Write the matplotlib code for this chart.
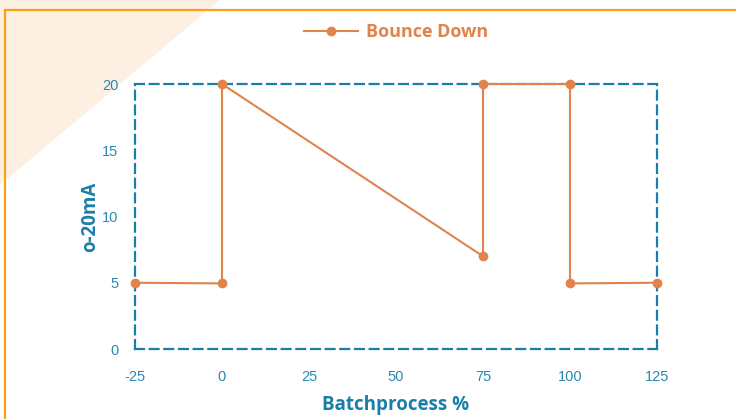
import matplotlib
matplotlib.use("Agg")
import matplotlib.pyplot as plt
from matplotlib.patches import Polygon, Rectangle
from matplotlib.lines import Line2D

plt.rcParams["axes.unicode_minus"] = False

# Bounce-down profile: batch progress (%) vs. 0-20 mA signal
batch_pct = [-25, 0, 0, 75, 75, 100, 100, 125]
signal_ma = [5, 4.95, 20, 7, 20, 20, 4.95, 5]
x_ticks = [-25, 0, 25, 50, 75, 100, 125]
y_ticks = [0, 5, 10, 15, 20]
series_name = "Bounce Down"

ORANGE = "#e0844c"
BLUE = "#1b7ea8"
TICK_BLUE = "#2a88b5"

fig = plt.figure(figsize=(7.36, 4.19), dpi=100)

# decorative background: pale triangle and orange frame
fig.patches.append(Polygon([(0, 1), (220 / 736, 1), (0, 1 - 185 / 419)],
                           closed=True, transform=fig.transFigure,
                           facecolor="#fdf0e2", edgecolor="none", zorder=0))
fig.patches.append(Rectangle((5 / 736, -0.2), 1.2, 1 - 10 / 419 + 0.2,
                             transform=fig.transFigure, facecolor="none",
                             edgecolor="#f7a21b", linewidth=1.6, zorder=1))

ax = fig.add_axes([135 / 736, 1 - 349 / 419, (657 - 135) / 736, (349 - 84) / 419])
ax.set_facecolor("none")
ax.set_zorder(2)

ax.plot(batch_pct, signal_ma, color=ORANGE, linewidth=1.5, marker="o",
        markersize=6, clip_on=False, zorder=5)

ax.set_xlim(-25, 125)
ax.set_ylim(0, 20)
ax.set_xticks(x_ticks)
ax.set_yticks(y_ticks)
ax.tick_params(axis="x", length=0, pad=15, labelcolor=TICK_BLUE, labelsize=10.5)
ax.tick_params(axis="y", length=0, pad=12, labelcolor=TICK_BLUE, labelsize=10.5)
for lbl in ax.get_xticklabels() + ax.get_yticklabels():
    lbl.set_family("Liberation Sans")

for sp in ax.spines.values():
    sp.set_color(BLUE)
    sp.set_linewidth(1.6)
    sp.set_linestyle((0, (4, 2.6)))

ax.set_xlabel("Batchprocess %", fontsize=13.5, fontweight="bold",
              color=BLUE, family="Open Sans", labelpad=8)
ax.set_ylabel("o-20mA", fontsize=13.5, fontweight="bold",
              color=BLUE, family="Open Sans", labelpad=0)
ax.yaxis.set_label_coords((100 - 135) / (657 - 135), 0.5)

handle = Line2D([], [], color=ORANGE, linewidth=1.5, marker="o", markersize=6)
leg = fig.legend([handle], [series_name], loc="center",
                 bbox_to_anchor=(396 / 736, 1 - 32 / 419), frameon=False,
                 handlelength=3, handletextpad=0.4,
                 prop={"family": "Open Sans", "weight": "bold", "size": 13})
for t in leg.get_texts():
    t.set_color(ORANGE)

fig.savefig("out.png", dpi=100)
